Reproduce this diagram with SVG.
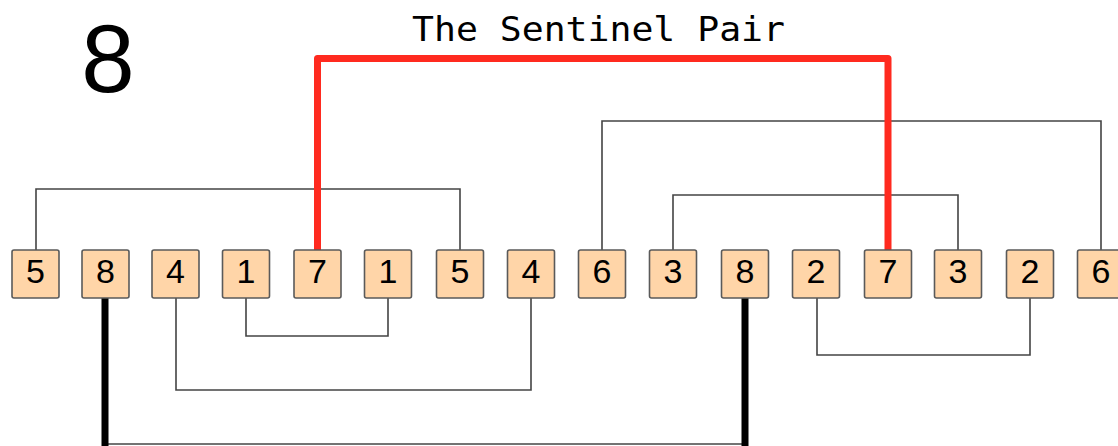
<svg xmlns="http://www.w3.org/2000/svg" width="1118" height="446" viewBox="0 0 1118 446">
<style>
.box{fill:#FFD5A8;stroke:#5a5a5a;stroke-width:1.6}
.num{font-family:"Liberation Sans",Arial,sans-serif;font-size:34px;fill:#000;text-anchor:middle}
.thin{fill:none;stroke:#444;stroke-width:1.6}
.red{fill:none;stroke:#FF2A1F;stroke-width:7;stroke-linejoin:round}
.thick{fill:none;stroke:#000;stroke-width:7}
</style>
<rect width="1118" height="446" fill="#fff"/>
<text x="108" y="92" font-family="Liberation Sans,Arial,sans-serif" font-size="96" text-anchor="middle">8</text>
<text x="412" y="41" font-family="DejaVu Sans Mono,monospace" font-size="34" textLength="373" lengthAdjust="spacingAndGlyphs">The Sentinel Pair</text>
<g id="connectors">
<polyline class="thin" points="36,250 36,189 460,189 460,250"/>
<polyline class="thin" points="602,250 602,121 1101,121 1101,250"/>
<polyline class="thin" points="673,250 673,195 958,195 958,250"/>
<polyline class="thin" points="246,298 246,336 388,336 388,298"/>
<polyline class="thin" points="176,298 176,390 531,390 531,298"/>
<polyline class="thin" points="817,298 817,355 1030,355 1030,298"/>
<line class="thin" x1="105" y1="444" x2="745" y2="444"/>
<line class="thick" x1="105" y1="298" x2="105" y2="446"/>
<line class="thick" x1="745" y1="298" x2="745" y2="446"/>
<polyline class="red" points="317.5,250 317.5,58.5 888,58.5 888,250"/>
</g>
<g id="n1"><rect class="box" x="12" y="250" width="47" height="48" rx="2"/><text class="num" x="35.5" y="283">5</text></g>
<g id="n2"><rect class="box" x="82" y="250" width="47" height="48" rx="2"/><text class="num" x="105.5" y="283">8</text></g>
<g id="n3"><rect class="box" x="152" y="250" width="47" height="48" rx="2"/><text class="num" x="175.5" y="283">4</text></g>
<g id="n4"><rect class="box" x="222.5" y="250" width="47" height="48" rx="2"/><text class="num" x="246" y="283">1</text></g>
<g id="n5"><rect class="box" x="294" y="250" width="47" height="48" rx="2"/><text class="num" x="317.5" y="283">7</text></g>
<g id="n6"><rect class="box" x="364.5" y="250" width="47" height="48" rx="2"/><text class="num" x="388" y="283">1</text></g>
<g id="n7"><rect class="box" x="436.5" y="250" width="47" height="48" rx="2"/><text class="num" x="460" y="283">5</text></g>
<g id="n8"><rect class="box" x="507.5" y="250" width="47" height="48" rx="2"/><text class="num" x="531" y="283">4</text></g>
<g id="n9"><rect class="box" x="578.5" y="250" width="47" height="48" rx="2"/><text class="num" x="602" y="283">6</text></g>
<g id="n10"><rect class="box" x="649.5" y="250" width="47" height="48" rx="2"/><text class="num" x="673" y="283">3</text></g>
<g id="n11"><rect class="box" x="721.5" y="250" width="47" height="48" rx="2"/><text class="num" x="745" y="283">8</text></g>
<g id="n12"><rect class="box" x="792.5" y="250" width="47" height="48" rx="2"/><text class="num" x="816" y="283">2</text></g>
<g id="n13"><rect class="box" x="864.5" y="250" width="47" height="48" rx="2"/><text class="num" x="888" y="283">7</text></g>
<g id="n14"><rect class="box" x="934.5" y="250" width="47" height="48" rx="2"/><text class="num" x="958" y="283">3</text></g>
<g id="n15"><rect class="box" x="1006.5" y="250" width="47" height="48" rx="2"/><text class="num" x="1030" y="283">2</text></g>
<g id="n16"><rect class="box" x="1077.5" y="250" width="47" height="48" rx="2"/><text class="num" x="1101" y="283">6</text></g>
</svg>
